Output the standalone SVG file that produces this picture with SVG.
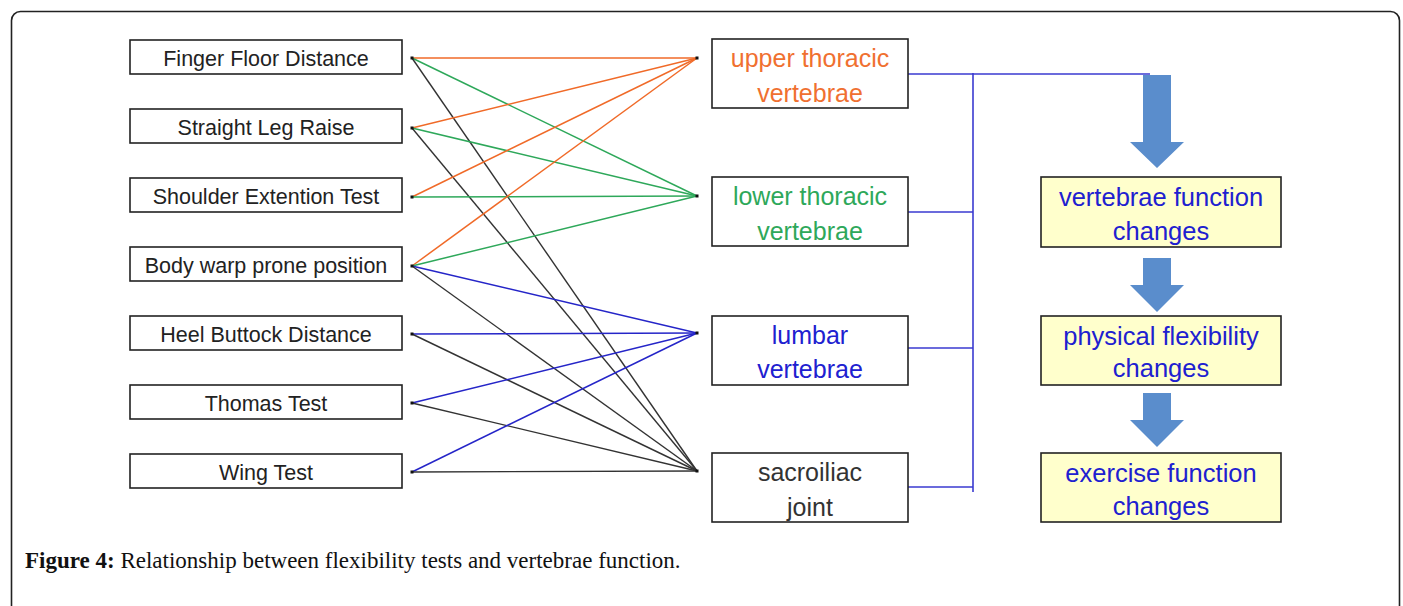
<svg xmlns="http://www.w3.org/2000/svg" width="1403" height="606" viewBox="0 0 1403 606">
<style>
.frame{fill:#fff;stroke:#222;stroke-width:1.6}
.lbox{fill:#fff;stroke:#222;stroke-width:1.6}
.ltxt{font-family:"Liberation Sans",Arial,sans-serif;font-size:21.5px;fill:#222;text-anchor:middle}
.mtxt{font-family:"Liberation Sans",Arial,sans-serif;font-size:25px;text-anchor:middle}
.rbox{fill:#FFFFCC;stroke:#222;stroke-width:1.6}
.rtxt{font-family:"Liberation Sans",Arial,sans-serif;font-size:25.5px;fill:#2020D0;text-anchor:middle}
.cap{font-family:"Liberation Serif","Times New Roman",serif;font-size:23px;fill:#111}
.o{stroke:#F06A28;stroke-width:1.5;fill:none}
.g{stroke:#2EA85A;stroke-width:1.5;fill:none}
.b{stroke:#2525C8;stroke-width:1.5;fill:none}
.k{stroke:#333;stroke-width:1.4;fill:none}
.bus{stroke:#3A3AD0;stroke-width:1.6;fill:none}
.arrow{fill:#5A8DCC}
.dot{fill:#111}
</style>
<rect class="frame" x="11.5" y="11.5" width="1388" height="640" rx="9"/>
<g id="connectors">
<line class="o" x1="412" y1="58" x2="697" y2="58"/>
<line class="g" x1="412" y1="58" x2="697" y2="196"/>
<line class="k" x1="412" y1="58" x2="697" y2="471"/>
<line class="o" x1="412" y1="128" x2="697" y2="58"/>
<line class="g" x1="412" y1="128" x2="697" y2="196"/>
<line class="k" x1="412" y1="128" x2="697" y2="471"/>
<line class="o" x1="412" y1="197" x2="697" y2="58"/>
<line class="g" x1="412" y1="197" x2="697" y2="196"/>
<line class="o" x1="412" y1="266" x2="697" y2="58"/>
<line class="g" x1="412" y1="266" x2="697" y2="196"/>
<line class="b" x1="412" y1="266" x2="697" y2="333"/>
<line class="k" x1="412" y1="266" x2="697" y2="471"/>
<line class="b" x1="412" y1="334" x2="697" y2="333"/>
<line class="k" x1="412" y1="334" x2="697" y2="471"/>
<line class="b" x1="412" y1="403" x2="697" y2="333"/>
<line class="k" x1="412" y1="403" x2="697" y2="471"/>
<line class="b" x1="412" y1="472" x2="697" y2="333"/>
<line class="k" x1="412" y1="472" x2="697" y2="471"/>
<g class="dot">
<rect x="410.5" y="56.5" width="3" height="3"/>
<rect x="410.5" y="126.5" width="3" height="3"/>
<rect x="410.5" y="195.5" width="3" height="3"/>
<rect x="410.5" y="264.5" width="3" height="3"/>
<rect x="410.5" y="332.5" width="3" height="3"/>
<rect x="410.5" y="401.5" width="3" height="3"/>
<rect x="410.5" y="470.5" width="3" height="3"/>
<rect x="695.5" y="56.5" width="3" height="3"/>
<rect x="695.5" y="194.5" width="3" height="3"/>
<rect x="695.5" y="331.5" width="3" height="3"/>
<rect x="695.5" y="469.5" width="3" height="3"/>
</g>
<line class="bus" x1="908" y1="74" x2="1150" y2="74"/>
<line class="bus" x1="973" y1="73" x2="973" y2="492"/>
<line class="bus" x1="908" y1="212" x2="973" y2="212"/>
<line class="bus" x1="908" y1="348" x2="973" y2="348"/>
<line class="bus" x1="908" y1="487" x2="973" y2="487"/>
<polygon class="arrow" points="1143,75 1171,75 1171,142 1184,142 1157,168 1130,142 1143,142"/>
<polygon class="arrow" points="1143,258 1171,258 1171,285 1184,285 1157,312 1130,285 1143,285"/>
<polygon class="arrow" points="1143,393 1171,393 1171,420 1184,420 1157,447 1130,420 1143,420"/>
</g>
<g id="n-ffd"><rect class="lbox" x="130" y="40" width="272" height="34"/><text class="ltxt" x="266" y="66">Finger Floor Distance</text></g>
<g id="n-slr"><rect class="lbox" x="130" y="109" width="272" height="34"/><text class="ltxt" x="266" y="135">Straight Leg Raise</text></g>
<g id="n-set"><rect class="lbox" x="130" y="178" width="272" height="34"/><text class="ltxt" x="266" y="204">Shoulder Extention Test</text></g>
<g id="n-bwp"><rect class="lbox" x="130" y="247" width="272" height="34"/><text class="ltxt" x="266" y="273">Body warp prone position</text></g>
<g id="n-hbd"><rect class="lbox" x="130" y="316" width="272" height="34"/><text class="ltxt" x="266" y="342">Heel Buttock Distance</text></g>
<g id="n-tt"><rect class="lbox" x="130" y="385" width="272" height="34"/><text class="ltxt" x="266" y="411">Thomas Test</text></g>
<g id="n-wt"><rect class="lbox" x="130" y="454" width="272" height="34"/><text class="ltxt" x="266" y="480">Wing Test</text></g>
<g id="n-upper"><rect class="lbox" x="712" y="39" width="196" height="69"/><text class="mtxt" x="810" y="67" fill="#F07030">upper thoracic</text><text class="mtxt" x="810" y="102" fill="#F07030">vertebrae</text></g>
<g id="n-lower"><rect class="lbox" x="712" y="177" width="196" height="69"/><text class="mtxt" x="810" y="205" fill="#2EA85A">lower thoracic</text><text class="mtxt" x="810" y="240" fill="#2EA85A">vertebrae</text></g>
<g id="n-lumbar"><rect class="lbox" x="712" y="316" width="196" height="69"/><text class="mtxt" x="810" y="344" fill="#2020D0">lumbar</text><text class="mtxt" x="810" y="378" fill="#2020D0">vertebrae</text></g>
<g id="n-sacro"><rect class="lbox" x="712" y="453" width="196" height="69"/><text class="mtxt" x="810" y="481" fill="#333">sacroiliac</text><text class="mtxt" x="810" y="516" fill="#333">joint</text></g>
<g id="n-vfc"><rect class="rbox" x="1041" y="177" width="240" height="70"/><text class="rtxt" x="1161" y="206">vertebrae function</text><text class="rtxt" x="1161" y="240">changes</text></g>
<g id="n-pfc"><rect class="rbox" x="1041" y="316" width="240" height="69"/><text class="rtxt" x="1161" y="345">physical flexibility</text><text class="rtxt" x="1161" y="377">changes</text></g>
<g id="n-efc"><rect class="rbox" x="1041" y="453" width="240" height="69"/><text class="rtxt" x="1161" y="482">exercise function</text><text class="rtxt" x="1161" y="515">changes</text></g>
<text class="cap" x="25" y="568"><tspan font-weight="bold">Figure 4:</tspan> Relationship between flexibility tests and vertebrae function.</text>
</svg>
